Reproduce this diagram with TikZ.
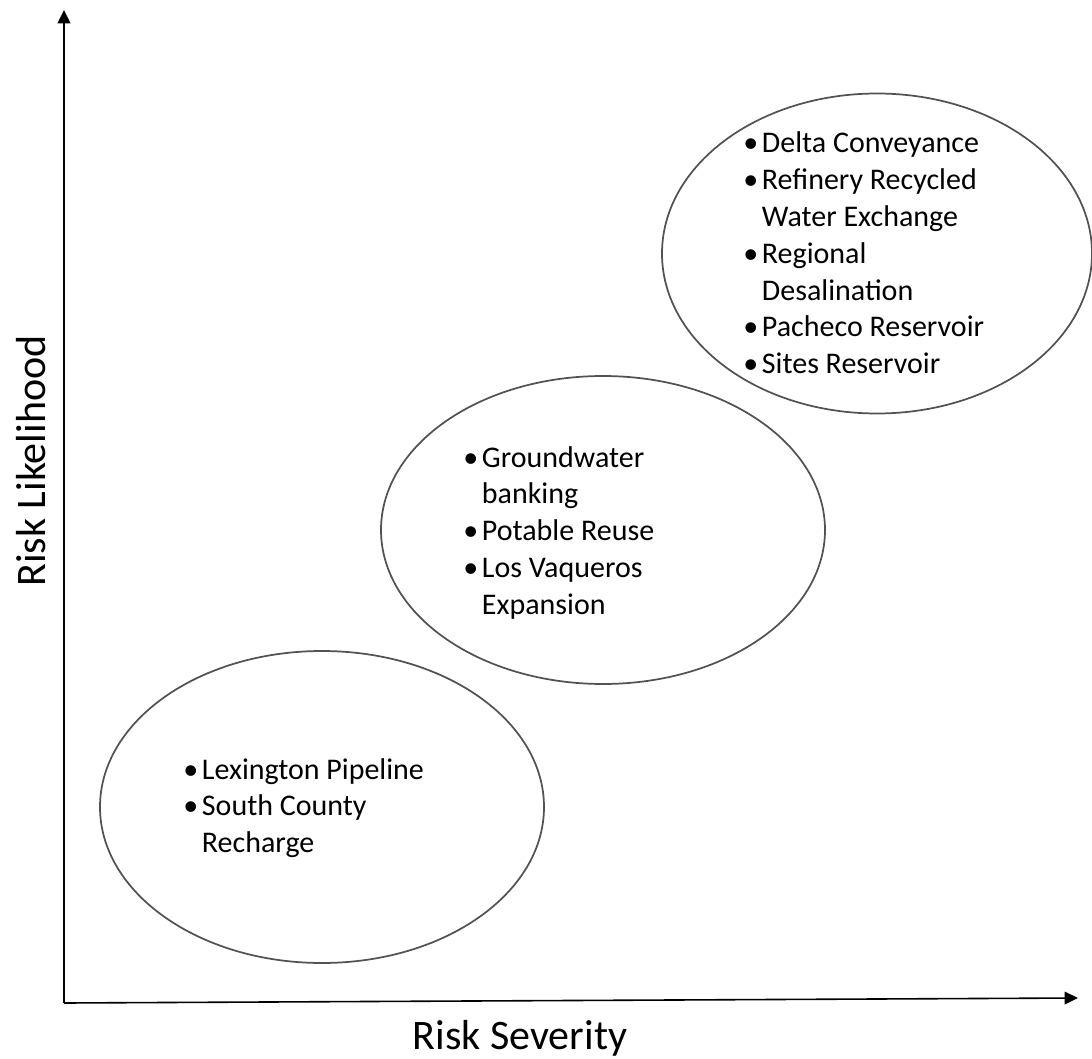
\documentclass[tikz,border=0pt]{standalone}
\usepackage{fontspec}
\setmainfont{Carlito}
\usetikzlibrary{shapes.geometric,arrows.meta}

\tikzset{
  riskzone/.style={ellipse, draw=black!68, line width=1.3pt, inner sep=0pt},
  risklist/.style={anchor=base west, inner sep=0pt, font=\fontsize{22.5pt}{27.6pt}\selectfont},
  axislabel/.style={anchor=base, inner sep=0pt, font=\fontsize{31.5pt}{38pt}\selectfont},
  axisline/.style={line width=1.2pt, -{Triangle[length=10pt,width=9.5pt]}}
}

\begin{document}
\begin{tikzpicture}[x=0.75pt, y=-0.75pt]
    \useasboundingbox (0,0) rectangle (1092,1059);
    \coordinate (origin) at (64,1003);
    \coordinate (ytip) at (64,10);
    \coordinate (xtip) at (1078,998);
    \draw[axisline] (origin) -- (ytip);
    \draw[axisline] (origin) -- (xtip);
    \node[axislabel] (severity) at (520,1049) {Risk Severity};
    \node[axislabel, rotate=90] (likelihood) at (45,461) {Risk Likelihood};

    \node[riskzone, minimum width=333pt, minimum height=234pt] (lowzone) at (322,807) {};
    \node[riskzone, minimum width=333pt, minimum height=231pt] (midzone) at (603,530) {};
    \node[riskzone, minimum width=322.5pt, minimum height=240pt] (highzone) at (877,253.5) {};

    \node[risklist] (lowlist) at (183,779) {\begin{tabular}[t]{@{}p{14pt}@{}l@{}}
        \textbullet & Lexington Pipeline\\
        \textbullet & South County\\
                    & Recharge
    \end{tabular}};
    \node[risklist] (midlist) at (463,467) {\begin{tabular}[t]{@{}p{14pt}@{}l@{}}
        \textbullet & Groundwater\\
                    & banking\\
        \textbullet & Potable Reuse\\
        \textbullet & Los Vaqueros\\
                    & Expansion
    \end{tabular}};
    \node[risklist] (highlist) at (743,153) {\begin{tabular}[t]{@{}p{14pt}@{}l@{}}
        \textbullet & Delta Conveyance\\
        \textbullet & Refinery Recycled\\
                    & Water Exchange\\
        \textbullet & Regional\\
                    & Desalination\\
        \textbullet & Pacheco Reservoir\\
        \textbullet & Sites Reservoir
    \end{tabular}};
\end{tikzpicture}
\end{document}
